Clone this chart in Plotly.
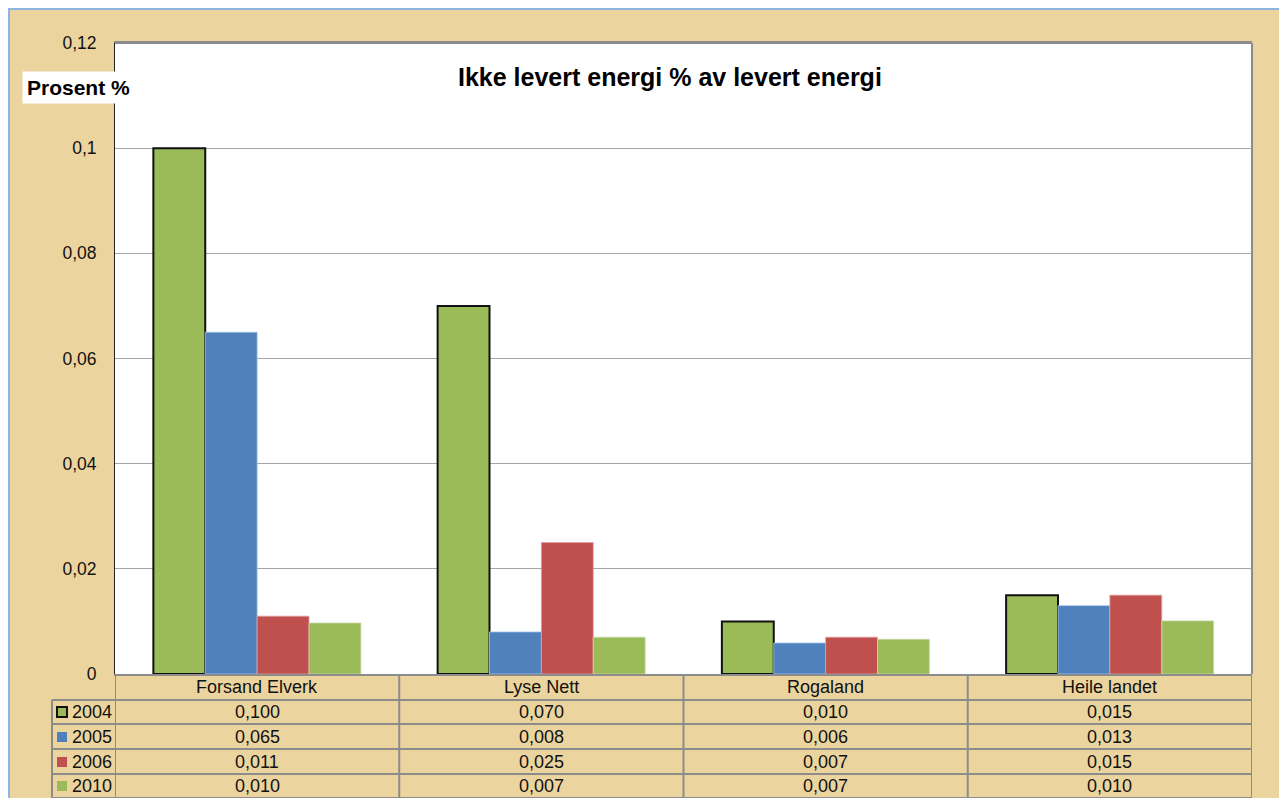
import plotly.graph_objects as go

categories = ["Forsand Elverk", "Lyse Nett", "Rogaland", "Heile landet"]
series_names = ["2004", "2005", "2006", "2010"]
values_2004 = [0.100, 0.070, 0.010, 0.015]
values_2005 = [0.065, 0.008, 0.0059, 0.013]
values_2006 = [0.011, 0.025, 0.007, 0.015]
values_2010 = [0.0097, 0.0070, 0.0066, 0.0101]
series_values = [values_2004, values_2005, values_2006, values_2010]
y_ticks = [0, 0.02, 0.04, 0.06, 0.08, 0.1, 0.12]
y_tick_labels = ["0", "0,02", "0,04", "0,06", "0,08", "0,1", "0,12"]

colors = ["#9BBB59", "#4F81BD", "#C0504D", "#9BBB59"]
line_colors = ["#111111", "#A9C4E4", "#E0A09E", "#C9DBA8"]
line_widths = [2, 0.8, 0.8, 0.8]

# page renders the figure with an 8px offset; reference pixel coords are used below
OFF = 8
W, H = 1287 - OFF, 798 - OFF
L, R, T, B = 115 - OFF, 35, 43 - OFF, 124
PW, PH = W - L - R, H - T - B


def px(x):
    return (x - OFF - L) / PW


def py(y):
    return (H - B - (y - OFF)) / PH


fig = go.Figure()
for name, vals, c, lc, lw in zip(series_names, series_values, colors, line_colors, line_widths):
    fig.add_trace(go.Bar(
        name=name, x=categories, y=vals,
        marker=dict(color=c, line=dict(color=lc, width=lw)),
        showlegend=False,
    ))

shapes = []
annotations = []
grid_color = "#8C8C8C"
txt = "#111111"

# blue outer border (figure edge)
shapes.append(dict(type="line", xref="paper", yref="paper", x0=px(OFF), x1=px(1300), y0=py(OFF + 0.5), y1=py(OFF + 0.5),
                   line=dict(color="#8DB4E2", width=3)))
shapes.append(dict(type="line", xref="paper", yref="paper", x0=px(OFF + 0.5), x1=px(OFF + 0.5), y0=py(OFF), y1=py(810),
                   line=dict(color="#8DB4E2", width=3)))

# table geometry (pixel rows)
row_lines = [700, 724, 749, 774, 798]
row_centers = [712, 737, 762, 786]
header_center = 687

for yl in row_lines:
    shapes.append(dict(type="line", xref="paper", yref="paper", x0=px(52), x1=1, y0=py(yl), y1=py(yl),
                       line=dict(color=grid_color, width=2)))
n = len(categories)
for i in range(n + 1):
    shapes.append(dict(type="line", xref="x", yref="paper", x0=i - 0.5, x1=i - 0.5, y0=0, y1=py(810),
                       line=dict(color=grid_color, width=2)))
shapes.append(dict(type="line", xref="paper", yref="paper", x0=px(52), x1=px(52), y0=py(700), y1=py(810),
                   line=dict(color=grid_color, width=2)))

for i, cat in enumerate(categories):
    annotations.append(dict(text=cat, xref="x", yref="paper", x=i, y=py(header_center), showarrow=False,
                            font=dict(size=18, color=txt), xanchor="center", yanchor="middle"))

for r, (name, vals, c) in enumerate(zip(series_names, series_values, colors)):
    yc = row_centers[r]
    key_line = dict(color="#111111", width=2) if r == 0 else dict(color=c, width=0)
    shapes.append(dict(type="rect", xref="paper", yref="paper", x0=px(57), x1=px(67), y0=py(yc + 5), y1=py(yc - 5),
                       fillcolor=c, line=key_line))
    annotations.append(dict(text=name, xref="paper", yref="paper", x=px(70), y=py(yc), showarrow=False,
                            font=dict(size=18, color=txt), xanchor="left", yanchor="middle"))
    for i, v in enumerate(vals):
        annotations.append(dict(text=f"{v:.3f}".replace(".", ","), xref="x", yref="paper", x=i, y=py(yc),
                                showarrow=False, font=dict(size=18, color=txt),
                                xanchor="center", yanchor="middle"))

annotations.append(dict(text="<b>Ikke levert energi % av levert energi</b>", xref="paper", yref="paper",
                        x=px(670), y=py(77), showarrow=False, font=dict(size=25, color="#000000"),
                        xanchor="center", yanchor="middle"))
annotations.append(dict(text="<b>Prosent %</b>", xref="paper", yref="paper", x=px(22), y=py(88),
                        showarrow=False, font=dict(size=21, color="#000000"), xanchor="left", yanchor="middle",
                        bgcolor="#FFFFFF", borderpad=4))

shapes += [
    dict(type="line", xref="paper", yref="paper", x0=0, x1=1, y0=1, y1=1, line=dict(color=grid_color, width=2)),
    dict(type="line", xref="paper", yref="paper", x0=1, x1=1, y0=0, y1=1, line=dict(color=grid_color, width=2)),
]

fig.update_layout(
    width=W, height=H,
    margin=dict(l=L, r=R, t=T, b=B),
    paper_bgcolor="#EBD49E",
    plot_bgcolor="#FFFFFF",
    font=dict(family="Liberation Sans, Arial, sans-serif", size=18, color=txt),
    barmode="group",
    bargap=0.27,
    bargroupgap=0,
    shapes=shapes,
    annotations=annotations,
    xaxis=dict(showticklabels=False, ticks="", showgrid=False, range=[-0.5, n - 0.5],
               showline=True, linecolor=grid_color, linewidth=2, mirror=True, zeroline=False),
    yaxis=dict(range=[0, 0.12], tickvals=y_ticks, ticktext=y_tick_labels, showgrid=True,
               gridcolor="#A6A6A6", gridwidth=1, zeroline=False, ticks="outside", ticklen=14,
               tickcolor="rgba(0,0,0,0)", tickfont=dict(size=17.5, color=txt),
               showline=True, linecolor="#222222", linewidth=1),
)

fig.write_html("out.html")
